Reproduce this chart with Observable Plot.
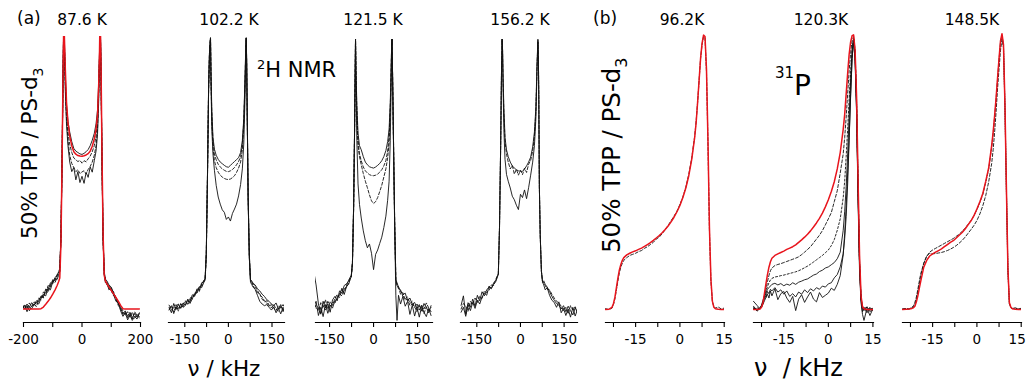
<!DOCTYPE html>
<html><head><meta charset="utf-8">
<script src="https://cdn.jsdelivr.net/npm/d3@7"></script>
<script src="https://cdn.jsdelivr.net/npm/@observablehq/plot@0.6"></script>
<style>
body{margin:0;background:#fff;}
#fig{position:relative;width:1027px;height:383px;overflow:hidden;background:#fff;font-family:"DejaVu Sans",sans-serif;}
#labels{position:absolute;left:0;top:0;}
</style></head><body><div id="fig">
<svg id="labels" width="1027" height="383" font-family="DejaVu Sans" fill="#000">
<text x="17" y="24" font-size="17">(a)</text>
<text x="82" y="25" font-size="15.5" text-anchor="middle">87.6 K</text>
<text x="229" y="25" font-size="15.5" text-anchor="middle">102.2 K</text>
<text x="373" y="25" font-size="15.5" text-anchor="middle">121.5 K</text>
<text x="520" y="25" font-size="15.5" text-anchor="middle">156.2 K</text>
<text x="593" y="24" font-size="17">(b)</text>
<text x="682" y="25" font-size="15.5" text-anchor="middle">96.2K</text>
<text x="821" y="25" font-size="15.5" text-anchor="middle">120.3K</text>
<text x="972" y="25" font-size="15.5" text-anchor="middle">148.5K</text>
<text transform="translate(37,239) rotate(-90)" font-size="21.5">50% TPP / PS-d<tspan font-size="14" dy="6">3</tspan></text>
<text transform="translate(620,253) rotate(-90)" font-size="24.5">50% TPP / PS-d<tspan font-size="16" dy="7">3</tspan></text>
<text x="257" y="77" font-size="21"><tspan font-size="13" dy="-8">2</tspan><tspan dy="8">H NMR</tspan></text>
<text x="775" y="95" font-size="28"><tspan font-size="15" dy="-17">31</tspan><tspan dy="17">P</tspan></text>
<text x="224" y="376" font-size="21.5" text-anchor="middle">ν / kHz</text>
<text x="754" y="376" font-size="24" style="white-space:pre">ν  / kHz</text>
</svg>
</div>
<script>
// ---------- shared frequency grids ----------
const nuH = [-204,-196,-188,-180,-172,-164,-156,-148,-140,-132,-124,-116,-108,-100,-92,-85,-80,
  -76,-72,-68,-65,-63, -61.5, -60,-57,-53,-48,-42,-35,-28,-21,-14,-7, 0,
  7,14,21,28,35,42,48,53,57,60, 61.5, 63,65,68,72,76,
  80,85,92,100,108,116,124,132,140,148,156,164,172,180,188,196];
const nuP = [-25.2,-24,-23,-22.5,-22,-21.5,-21,-20.5,-20,-19.5,-19,
  -18,-17,-16,-15,-14,-13,-12,-11,-10,-9,-8,-7,-6,-5,-4,-3,-2,-1,
  0,1,2,3,4,5,
  5.5,6,6.5,7,7.5,8,8.5,9,9.5,10,10.5,11,11.5,12,
  13,14,15.2];

// ---------- tick values / labels ----------
const ticksH87 = [-200,-100,0,100,200], labelsH87 = [-200,0,200];
const ticksH = [-150,-75,0,75,150], labelsH = [-150,0,150];
const ticksP = [-22.5,-15,-7.5,0,7.5,15], labelsP = [-15,0,15];

// ---------- 2H NMR, 87.6 K ----------
const h876Fit = [0.2,0.2,0.2,0.2,0.2,0.2,0.2,0.2,0.3,0.9,1.9,3.0,4.2,5.6,7.2,8.8,10.2,
  11.5,24,55,85,100, 106, 99,88,76,68.5,63.5,60,57.8,56.9,56.4,56.2, 56.1,
  56.3,56.6,57.1,58,59.8,62.5,66,71,82,95, 106, 102,90,60,28,12.5,
  10.5,9.5,8.3,7,5.7,4.4,3.1,1.5,0.3,0.2,0.2,0.2,0.2,0.2,0.2,0.2];
const h876A = [1.2,0.3,2.0,0.8,2.5,1.5,3.2,2.8,5.0,4.6,7.5,7.0,9.8,9.4,11.8,12.5,13.8,
  15,27,56,85,100, 106, 98,86,75,69,65,61.5,59,58,57.5,57, 56.8,
  57.2,57.8,58.6,60,62,64.5,68,73,83,95, 106, 102,88,58,27,14,
  11,10.5,9,8.2,6,4.5,2.5,0.5,-1.5,-0.5,-2.5,-1,-3,-1.5,-2.8,-1.2];
const h876B = [0.5,1.8,0.2,2.4,1.0,2.8,2.0,4.2,3.6,6.4,5.8,8.8,8.2,11.0,10.6,12.8,13.5,
  14,26,56,85,100, 106, 97,84,72,65,60.5,57.5,55.5,54.8,54.2,54.6, 53.6,
  54.5,54.1,55.2,56.2,57.8,60,63.5,69,80,94, 106, 101,87,58,26,13,
  10.5,9.5,8.8,7.5,6.5,3.8,2.0,1.2,-0.5,-2.0,-0.8,-2.8,-1.0,-3.2,-1.8,-2.5];
const h876C = [1.8,0.2,1.5,-0.5,1.2,2.2,1.0,3.5,4.8,4.2,7.0,6.2,9.0,10.5,9.8,12.0,13.2,
  14,26,55,84,100, 106, 96,82,70,62,56.5,53.5,52,50.5,51.2,49.8, 50.4,
  50.8,49.6,51.3,52.4,54,56.5,60,66,78,93, 106, 101,87,58,26,13,
  11.5,9.0,8.0,6.8,5.0,4.2,1.5,0.2,-1.8,-1.0,-3.0,-1.5,-3.5,-0.8,-2.2,-3.0];
const h876D = [0.0,1.5,-0.8,1.0,0.3,1.8,2.5,2.0,4.0,5.5,5.0,8.0,7.2,10.2,11.5,11.0,12.5,
  14,26,55,84,100, 106, 95,80,68,60,54,50.5,52,47.5,50.5,46.5, 48.8,
  46.2,50.2,48.4,52.2,50.3,54.5,58,64,76,92, 106, 101,87,58,26,13,
  9.8,10.0,7.2,7.8,5.5,3.0,2.5,-0.5,-2.5,-1.2,-3.8,-2.0,-4.0,-2.5,-3.5,-1.5];

// ---------- 2H NMR, 102.2 K ----------
const h1022A = [0.8,-1.2,2.2,0.0,1.8,0.4,2.4,1.6,3.8,2.8,5.4,4.8,7.6,7.0,9.8,10.0,11.5,
  21,49,82,94,97.5, 99.5, 88,73,63,58.7,56.5,55,54,53.4,52.8,52.3, 52.1,
  52.8,53.5,54.2,54.9,55.6,57.5,61.9,70,84,97, 99.5, 90,70,41,20,11,
  10.5,9.6,9.0,7.6,6.8,5.6,4.8,3.6,3.0,2.0,1.4,2.4,0.2,1.8,-0.8,1.5];
const h1022B = [-0.2,1.0,0.5,1.8,-0.6,2.2,1.0,2.8,2.2,4.4,3.8,6.2,6.0,8.2,8.6,10.6,11.2,
  20,48,81,94,97.5, 99.5, 87,71,61.5,57,54.8,53.2,52.2,51.5,51,50.6, 50.5,
  50.8,51.3,52,53,54.2,56,60.5,69,83,96.5, 99.5, 90,70,41,20,11,
  9.8,9.5,8.4,7.0,5.2,4.6,3.2,2.4,1.2,1.8,0.4,-0.4,1.2,0.6,1.8,0.0];
const h1022C = [1.6,0.2,-0.8,1.2,2.0,0.6,1.8,3.2,1.8,3.2,4.8,5.2,7.2,6.6,9.4,10.4,11.0,
  20,48,81,94,97.5, 99.5, 86,69,59,54.5,52,50.3,49.2,48.5,48,47.7, 47.6,
  47.8,48.3,49,50.2,51.8,54,58.5,67.5,82,96, 99.5, 89,69,40,19,10.5,
  10.0,8.6,7.6,6.2,5.8,3.8,2.8,3.2,1.6,0.6,1.8,0.2,-0.6,1.2,0.2,-1.2];
const h1022D = [0.2,1.4,-1.5,0.8,0.4,2.0,0.8,1.5,3.4,2.2,4.0,5.8,6.2,8.4,8.0,9.8,10.8,
  20,48,81,94,97.5, 99.5, 84,66,57,51,45.5,41.2,38.6,36.5,35.6,33.0, 33.9,
  32.4,35.2,36.8,38.6,41.6,45.8,51.5,61,77,94, 99.5, 89,69,40,19,10,
  9.2,8.2,7.4,5.2,3.0,2.0,1.4,1.8,0.8,-0.2,1.0,-1.2,0.4,-1.6,0.8,-0.4];

// ---------- 2H NMR, 121.5 K ----------
const h1215A = [14,9,2.0,-1.5,3.0,0.5,2.2,-1.0,3.5,4.8,3.2,6.8,6.0,8.8,9.4,10.5,11.8,
  12.5,17,38,64,84, 99, 88,75,64.5,60,58.5,56,54,53,52.3,52, 51.8,
  52.2,52.8,53.5,54.5,56,58.2,61.5,66,76,88, 96, 99,85,62,32,11,
  9.8,8.2,6.8,5.4,6.0,3.2,4.2,1.8,2.6,0.4,1.8,-0.6,2.2,0.8,-1.2,1.4];
const h1215B = [2.2,0.8,-0.5,2.5,1.0,3.6,0.0,2.8,1.5,4.0,5.5,4.4,7.2,6.5,9.0,10.6,11.5,
  12,17,37,63,84, 99, 87,73,62,57,54.5,52.2,50.8,50,49.4,49.1, 49,
  49.2,49.6,50.3,51.2,52.6,54.6,58,63.5,74,87, 96, 99,85,62,32,11,
  9.0,7.6,7.2,4.8,4.0,4.6,2.2,3.0,0.8,2.2,-0.2,1.6,0.2,2.4,0.6,-0.8];
const h1215C = [-0.8,1.8,0.6,-1.8,1.4,-0.2,3.0,1.2,2.6,2.2,4.5,5.8,5.0,7.6,8.0,9.8,11.0,
  12,17,37,63,84, 99, 86,70,60,56,53,49.8,47,44.6,42,39.8, 38.8,
  39.5,41,43.2,45.5,48.5,51.5,55.5,61,72,86, 96, 99,85,62,32,11,
  8.6,8.4,5.6,6.2,3.4,3.8,1.5,2.0,1.0,-0.8,1.2,0.4,-1.5,1.0,-0.4,0.6];
const h1215D = [1.0,3.0,-2.2,0.8,-2.6,1.8,-1.4,1.6,0.5,3.2,4.0,5.4,7.8,5.5,8.6,9.2,11.0,
  12,17,37,63,84, 99, 84,62,46,38.5,33.5,28.8,25.2,22.6,24.0,20.6, 14.6,
  20.2,21.8,24.2,26.5,30.0,34.2,40,47,62,82, 96, 99,85,60,30,5,
  -4.0,5.2,2.0,4.8,1.2,3.0,-1.8,1.6,-2.4,0.8,-2.8,1.2,-1.0,-2.6,0.4,-2.2];

// ---------- 2H NMR, 156.2 K ----------
const h1562A = [1.5,5.0,-1.8,2.5,0.8,3.8,1.2,5.2,3.2,6.5,5.0,7.2,8.2,7.6,9.8,10.6,12.0,
  13,30,60,88,99, 95, 86,74,63,58.5,56,54,52.6,51.8,51.2,50.8, 50.6,
  50.6,51.5,52.6,54,55.8,59.5,65,74,90,99, 93, 78,45,27,14,10,
  10.5,9.2,8.2,6.6,4.8,3.4,2.2,1.6,0.2,1.4,-0.8,1.2,-0.4,-2.0,0.6,-1.2];
const h1562B = [0.2,2.2,1.2,-0.6,3.0,1.8,4.2,2.6,4.8,4.0,6.8,6.2,7.0,9.0,8.8,11.0,12.2,
  13,30,60,88,99, 95, 85,72,61.5,57,54,51.5,52.8,49.6,51.4,49.2, 51,
  49.4,51.8,50.2,53.2,54.6,58,63.5,72.5,89,98.5, 93, 78,45,27,14,10,
  9.8,8.8,7.4,7.2,5.6,4.2,3.0,2.4,1.2,-0.4,0.8,-1.6,1.4,-0.2,1.0,-0.6];
const h1562C = [-1.0,0.8,-2.5,1.8,-0.4,2.6,0.4,3.4,2.0,4.6,6.0,5.2,8.6,7.8,9.2,10.2,11.6,
  13,30,60,88,99, 95, 84,66,55,49.5,47,44.5,41.5,40.2,38.2,36.6, 42.2,
  41.0,43.8,40.6,44.6,49.2,54,60,70,88,98, 93, 78,45,27,14,10,
  9.0,7.2,8.0,5.2,3.4,2.6,0.8,2.8,-1.2,0.4,-2.2,0.2,-2.8,0.8,-2.4,0.0];

// ---------- 31P, 96.2 K ----------
const p962Fit = [0,0.1,0.8,2.2,4.5,8,11.5,14.5,16.5,18,19,
  20,20.6,21.1,21.5,22,22.5,23.1,23.8,24.5,25.3,26.2,27.1,28.1,29.3,30.6,32.1,33.8,35.8,
  38.1,41,44.5,49,55,63,
  68.5,76,84,92,97.5,100.5,100,88,62,30,11,3,0.8,0.3,
  0.1,0,0];
const p962A = [0.3,0,0.5,1.8,4,7.2,10.5,13.5,15.5,17,18,
  19,19.8,20.2,20.6,21.2,21.6,22.4,23,23.8,24.6,25.8,26.5,27.8,29.2,30.8,32.5,34.2,36,
  38.5,41.2,44.8,49.5,55.5,63.5,
  69,76,84,92,97,100,99.5,87,61,29,10.5,2.8,1.2,0.5,
  0.9,0.2,0.6];

// ---------- 31P, 120.3 K ----------
const p1203Fit = [0,0,0.2,0.8,2.5,6,9.5,12.8,15.5,17.5,18.8,
  19.8,20.4,20.9,21.4,22,22.5,23,23.7,24.6,25.5,26.5,27.6,28.8,30.2,31.7,33.4,35.3,37.6,
  40.2,43.2,46.8,51.5,57.5,66,
  71.5,79,86.5,93.5,98,100.3,100.6,95,78,48,20,5,1,0.3,
  0,0,0];
const p1203A = [0.5,0.2,0.4,1.0,2.6,5.0,7.5,10.2,12.5,14.2,15.2,
  16.1,16.5,16.8,17.2,17.6,18.0,18.4,18.8,19.3,20.1,21.0,22.0,23.0,24.4,25.8,27.2,28.9,31.0,
  33.2,35.5,39.5,43.5,50,57,
  63,70.5,79,87.5,94,98.5,100,95,77,46,18,4.5,1.2,0.6,
  -0.5,0.8,-0.2];
const p1203B = [0.2,0.6,0.2,1.0,2.2,4.6,6.8,8.4,9.8,10.8,11.4,
  11.9,12.1,12.4,12.6,12.9,13.2,13.5,13.8,14.2,14.7,15.3,15.9,16.6,17.4,18.2,19.0,19.8,20.8,
  21.8,23.4,25.6,29,33.2,41,
  47,56,66,77,87,95,99.5,94,76,45,17,4,1,0.4,
  0.8,-0.4,0.3];
const p1203C = [0.6,-0.4,0.8,1.4,2.8,4.6,6.0,7.4,8.0,8.6,9.2,
  9.6,9.0,9.5,8.7,9.3,8.9,9.8,9.2,10.0,10.4,10.9,11.2,11.9,12.6,13.0,13.9,14.4,15.2,
  15.6,16.4,17.2,18.6,21,29,
  36,45,57,71,84,95,99.3,93,75,44,17,4,0.6,-0.4,
  1.0,-0.8,0.5];
const p1203D = [1.2,-0.6,0.4,1.6,3.4,5.2,4.4,6.6,5.8,7.4,6.8,
  8.0,6.4,7.2,5.6,6.8,4.8,5.8,4.6,6.4,5.6,7.2,6.2,7.6,6.8,8.0,7.4,8.6,8.2,
  9.4,9.8,11.6,12.8,15.6,20.4,
  26,34,46,62,79,92,99,92,73,42,16,3.5,-0.8,0.8,
  -1.2,0.6,-0.6];
const p1203E = [3.0,1.5,0.2,0.8,2.0,3.2,4.5,5.6,4.2,6.8,5.0,
  7.6,3.6,5.8,6.6,4.2,2.6,4.8,-0.4,3.8,5.4,2.6,4.6,6.4,3.8,2.8,6.2,4.4,5.2,
  6.0,7.8,7.0,9.2,12.4,20,
  28,38,50,63,78,92,98.5,91,72,40,14,2.5,-1.8,-4.0,
  0.4,-2.2,0.8];

// ---------- 31P, 148.5 K ----------
const p1485Fit = [0,0.1,0.2,0.3,0.4,0.6,1.2,2.8,5,7.8,10.5,
  15.5,18,19.6,20.4,21,21.6,22.2,23,23.8,24.6,25.2,26.2,27.2,28.2,29.5,31,32.5,34.4,
  36.8,39.5,42.5,47,52,60,
  65,71,77.5,85,92,98.5,101,97,75,44,15,2.5,0.8,0.3,
  0.1,0,0];
const p1485A = [0.2,0.4,0.1,0.5,0.6,1.0,2.0,3.8,6.5,9.5,12.5,
  17,19.5,21,21.8,22.4,23,23.6,24.2,24.8,25.4,26,26.8,27.6,28.6,29.8,31.2,32.6,34.4,
  36.6,39.2,42.2,46.6,51.5,59.5,
  64.5,70.5,77,84.5,91.5,98,100.5,96.5,74,43,14.5,2.2,0.6,0.4,
  0.5,0.1,0.4];
const p1485B = [0.1,0.3,0.2,0.5,0.8,1.4,2.6,4.6,7.4,10.4,13.2,
  16.8,19.6,20.6,20.4,20.5,20.7,20.9,21.2,21.6,22.1,22.7,23.4,24.3,25.3,26.5,27.9,29.3,30.8,
  32.6,35,38,41.8,46.8,53.5,
  58.5,65,72.5,81,88.2,95,99,96,74,43,14,2,0.8,0.3,
  0.6,0.2,0.5];

// ---------- drawing ----------
const RED = "#e8141c", BLK = "#111";
const fig = document.getElementById("fig");
const labelsSvg = document.getElementById("labels");

function drawPanel(cfg) {
  const mL = 24, mR = 24;
  const [x0, x1] = cfg.frame;
  const width = x1 - x0 + mL + mR;
  const yTop = cfg.yTop;
  const marginTop = 322 - (yTop + 4.76) * 2.7301;
  const marks = [];
  for (const s of cfg.series) {
    const rows = cfg.nu.map((nu, i) => ({nu, I: s.values[i]}));
    marks.push(Plot.line(rows, {x: "nu", y: "I", stroke: s.color || BLK,
      strokeWidth: s.width || 0.9, strokeDasharray: s.dash || null, clip: true}));
  }
  marks.push(Plot.frame({anchor: "bottom", stroke: "#000", strokeWidth: 1.2}));
  // tick marks
  marks.push(Plot.axisX({ticks: cfg.ticks, tickSize: 5, label: null, tickFormat: () => "", strokeWidth: 1.1}));
  // tick labels (the last one may be nudged inward so it stays inside the page)
  const inner = cfg.labels.filter(d => d !== cfg.nudge);
  marks.push(Plot.axisX({ticks: inner, tickSize: 0, tickPadding: 12, label: null,
    tickFormat: d => String(d), fontSize: 13.5}));
  if (cfg.nudge !== undefined) {
    marks.push(Plot.axisX({ticks: [cfg.nudge], tickSize: 0, tickPadding: 12, label: null,
      tickFormat: d => String(d), fontSize: 13.5, dx: -4}));
  }
  const svg = Plot.plot({
    width, height: 383, marginLeft: mL, marginRight: mR, marginTop, marginBottom: 61,
    x: {domain: cfg.domain},
    y: {domain: [-4.76, yTop], axis: null},
    style: {background: "transparent", overflow: "visible", color: "#000",
      fontFamily: "DejaVu Sans", fontSize: "13.5px", position: "absolute",
      left: (x0 - mL) + "px", top: "0px"},
    marks
  });
  fig.insertBefore(svg, labelsSvg);
}

const solid = v => ({values: v});
const dashed = v => ({values: v, dash: "3,2"});
const dotted = v => ({values: v, dash: "2,2"});
const fit = v => ({values: v, color: RED, width: 1.5});

drawPanel({frame: [23, 140], domain: [-200, 200], nu: nuH, ticks: ticksH87, labels: labelsH87, yTop: 100,
  series: [solid(h876A), dashed(h876B), dashed(h876C), solid(h876D), fit(h876Fit)]});
drawPanel({frame: [168, 284], domain: [-206, 193], nu: nuH, ticks: ticksH, labels: labelsH, yTop: 102.2,
  series: [solid(h1022A), dashed(h1022B), dashed(h1022C), solid(h1022D)]});
drawPanel({frame: [315, 432], domain: [-198, 201], nu: nuH, ticks: ticksH, labels: labelsH, yTop: 102.2,
  series: [solid(h1215A), dashed(h1215B), dashed(h1215C), solid(h1215D)]});
drawPanel({frame: [460, 577], domain: [-206, 196], nu: nuH, ticks: ticksH, labels: labelsH, yTop: 102.2,
  series: [solid(h1562A), dashed(h1562B), solid(h1562C)]});
drawPanel({frame: [605, 724], domain: [-25.2, 15.1], nu: nuP, ticks: ticksP, labels: labelsP, yTop: 102.2,
  series: [dashed(p962A), fit(p962Fit)]});
drawPanel({frame: [753, 873], domain: [-25.2, 15.2], nu: nuP, ticks: ticksP, labels: labelsP, yTop: 102.2,
  series: [dashed(p1203A), dotted(p1203B), solid(p1203C), solid(p1203D), solid(p1203E), fit(p1203Fit)]});
drawPanel({frame: [902, 1021], domain: [-25.2, 15.1], nu: nuP, ticks: ticksP, labels: labelsP, yTop: 102.2, nudge: 15,
  series: [dashed(p1485A), dashed(p1485B), fit(p1485Fit)]});
</script></body></html>
